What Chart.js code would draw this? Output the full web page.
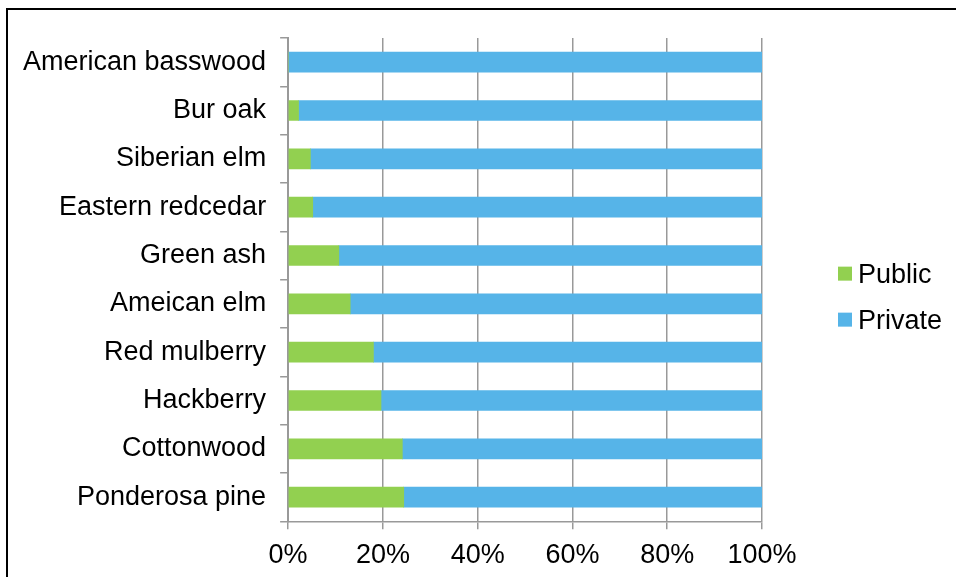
<!DOCTYPE html>
<html>
<head>
<meta charset="utf-8">
<title>Public and private share by species</title>
<script src="https://cdn.jsdelivr.net/npm/chart.js@4"></script>
<style>
  html, body { margin: 0; padding: 0; background: #fff; overflow: hidden; }
  #wrap { position: relative; width: 956px; height: 577px; overflow: hidden; }
  #frame { position: absolute; left: 6px; top: 8px; width: 1000px; height: 700px; border: 2px solid #000; }
  #chart { position: absolute; left: 0; top: 0; }
</style>
</head>
<body>
<div id="wrap">
  <div id="frame"></div>
  <canvas id="chart" width="956" height="577"></canvas>
</div>
<script>
// Share of trees on public vs private land, per species (percent)
const species = ['American basswood', 'Bur oak', 'Siberian elm', 'Eastern redcedar', 'Green ash',
                 'Ameican elm', 'Red mulberry', 'Hackberry', 'Cottonwood', 'Ponderosa pine'];
const publicShare  = [0, 2.2, 4.7, 5.2, 10.7, 13.1, 18.0, 19.6, 24.1, 24.4];
const privateShare = [100, 97.8, 95.3, 94.8, 89.3, 86.9, 82.0, 80.4, 75.9, 75.6];
const percentTicks = [0, 20, 40, 60, 80, 100];

const FONT = 'Liberation Sans, Arial, sans-serif';
const FONT_SIZE = 27;
const GRID = '#999999';

// Legend drawn by hand so the swatch/text spacing can be tight
const sideLegend = {
    id: 'sideLegend',
    afterDraw(chart) {
        const ctx = chart.ctx;
        const area = chart.chartArea;
        const x = area.right + 76;
        const midY = (area.top + area.bottom) / 2 + 17;
        const step = 46;
        const sets = chart.data.datasets;
        ctx.save();
        ctx.font = FONT_SIZE + 'px ' + FONT;
        ctx.textBaseline = 'alphabetic';
        ctx.textAlign = 'left';
        sets.forEach((ds, i) => {
            const cy = midY + (i - (sets.length - 1) / 2) * step;
            ctx.fillStyle = ds.backgroundColor;
            ctx.fillRect(x, cy - 7, 14, 14);
            ctx.fillStyle = '#000';
            ctx.fillText(ds.label, x + 20, cy + 9.5);
        });
        ctx.restore();
    }
};

new Chart(document.getElementById('chart'), {
    type: 'bar',
    data: {
        labels: species,
        datasets: [
            { label: 'Public',  data: publicShare,  backgroundColor: '#92D050' },
            { label: 'Private', data: privateShare, backgroundColor: '#56B4E8' }
        ]
    },
    options: {
        indexAxis: 'y',
        responsive: false,
        animation: false,
        devicePixelRatio: 1,
        barThickness: 20,
        layout: { padding: { left: 9, top: 38, right: 194, bottom: -4 } },
        plugins: {
            legend: { display: false },
            tooltip: { enabled: false }
        },
        scales: {
            x: {
                stacked: true,
                min: 0,
                max: 100,
                afterBuildTicks: axis => { axis.ticks = percentTicks.map(v => ({ value: v })); },
                ticks: {
                    callback: v => v + '%',
                    color: '#000',
                    font: { family: FONT, size: FONT_SIZE, lineHeight: 1.1 },
                    padding: 11,
                    maxRotation: 0
                },
                grid: { color: GRID, lineWidth: 1.5, tickLength: 8 },
                border: { color: GRID, width: 1.5 }
            },
            y: {
                stacked: true,
                ticks: {
                    color: '#000',
                    font: { family: FONT, size: FONT_SIZE },
                    padding: 14
                },
                grid: { drawOnChartArea: false, offset: true, color: GRID, lineWidth: 1.5, tickLength: 8 },
                border: { color: GRID, width: 2 }
            }
        }
    },
    plugins: [sideLegend]
});
</script>
</body>
</html>
